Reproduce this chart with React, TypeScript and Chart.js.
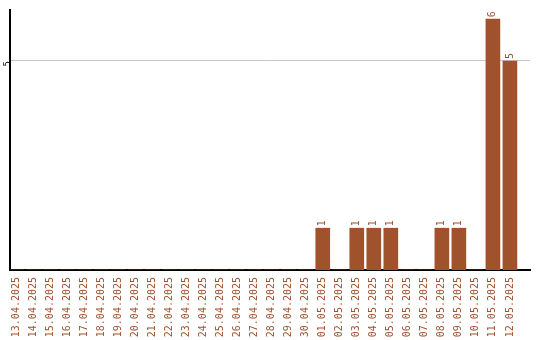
import React, { useEffect, useRef } from "react";
import { Chart, registerables } from "chart.js";

Chart.register(...registerables);

// Daily counts, 13.04.2025 – 12.05.2025
const dates = [
  "13.04.2025", "14.04.2025", "15.04.2025", "16.04.2025", "17.04.2025",
  "18.04.2025", "19.04.2025", "20.04.2025", "21.04.2025", "22.04.2025",
  "23.04.2025", "24.04.2025", "25.04.2025", "26.04.2025", "27.04.2025",
  "28.04.2025", "29.04.2025", "30.04.2025", "01.05.2025", "02.05.2025",
  "03.05.2025", "04.05.2025", "05.05.2025", "06.05.2025", "07.05.2025",
  "08.05.2025", "09.05.2025", "10.05.2025", "11.05.2025", "12.05.2025",
];
const counts = [
  0, 0, 0, 0, 0, 0, 0, 0, 0, 0,
  0, 0, 0, 0, 0, 0, 0, 0, 1, 0,
  1, 1, 1, 0, 0, 1, 1, 0, 6, 5,
];
const yTickValues = [5];

const BROWN = "#A0522D";
const FONT = "'DejaVu Sans Mono', monospace";

// Writes each non-zero value vertically just above its bar
const valueLabels = {
  id: "valueLabels",
  afterDatasetsDraw(chart: any) {
    const { ctx } = chart;
    const meta = chart.getDatasetMeta(0);
    ctx.save();
    ctx.fillStyle = BROWN;
    ctx.font = `10px ${FONT}`;
    ctx.textAlign = "left";
    ctx.textBaseline = "middle";
    meta.data.forEach((bar: any, i: number) => {
      const v = counts[i];
      if (!v) return;
      ctx.save();
      ctx.translate(bar.x, bar.y - 2);
      ctx.rotate(-Math.PI / 2);
      ctx.fillText(String(v), 0, 0);
      ctx.restore();
    });
    ctx.restore();
  },
};

export default function App() {
  const ref = useRef<HTMLCanvasElement>(null);

  useEffect(() => {
    if (!ref.current) return;
    const chart = new Chart(ref.current, {
      type: "bar",
      data: {
        datasets: [
          {
            data: counts.map((c, i) => ({ x: i, y: c })),
            backgroundColor: BROWN,
            barThickness: 14,
          },
        ],
      },
      plugins: [valueLabels],
      options: {
        animation: false,
        responsive: false,
        maintainAspectRatio: false,
        layout: { padding: { top: 10, right: 10, left: 0, bottom: 0 } },
        plugins: {
          legend: { display: false },
          tooltip: { enabled: false },
        },
        scales: {
          x: {
            type: "linear",
            offset: false,
            min: -0.38,
            max: 30.18,
            grid: { display: false, drawTicks: false, offset: false },
            border: { display: true, color: "#000", width: 2 },
            afterBuildTicks: (scale: any) => {
              scale.ticks = dates.map((_, i) => ({ value: i }));
            },
            afterFit: (scale: any) => {
              scale.height = 70;
              scale.paddingLeft = 0;
              scale.paddingRight = 0;
            },
            ticks: {
              autoSkip: false,
              minRotation: 90,
              maxRotation: 90,
              padding: 7,
              color: BROWN,
              font: { family: FONT, size: 10 },
              callback: (v: any) => dates[Math.round(Number(v))] ?? "",
            },
          },
          y: {
            min: 0,
            max: 6.22,
            grid: { color: "#c8c8c8", drawTicks: false, lineWidth: 1 },
            border: { display: true, color: "#000", width: 2 },
            afterBuildTicks: (scale: any) => {
              scale.ticks = yTickValues.map((v) => ({ value: v }));
            },
            afterFit: (scale: any) => {
              scale.width = 10;
              scale.paddingTop = 0;
              scale.paddingBottom = 0;
            },
            ticks: {
              minRotation: 90,
              maxRotation: 90,
              padding: 2,
              color: "#000",
              font: { family: FONT, size: 9 },
            },
          },
        },
      },
    });
    return () => chart.destroy();
  }, []);

  return (
    <div style={{ position: "absolute", left: 0, top: 0, width: 540, height: 340, background: "#fff" }}>
      <canvas ref={ref} width={540} height={340} />
    </div>
  );
}
